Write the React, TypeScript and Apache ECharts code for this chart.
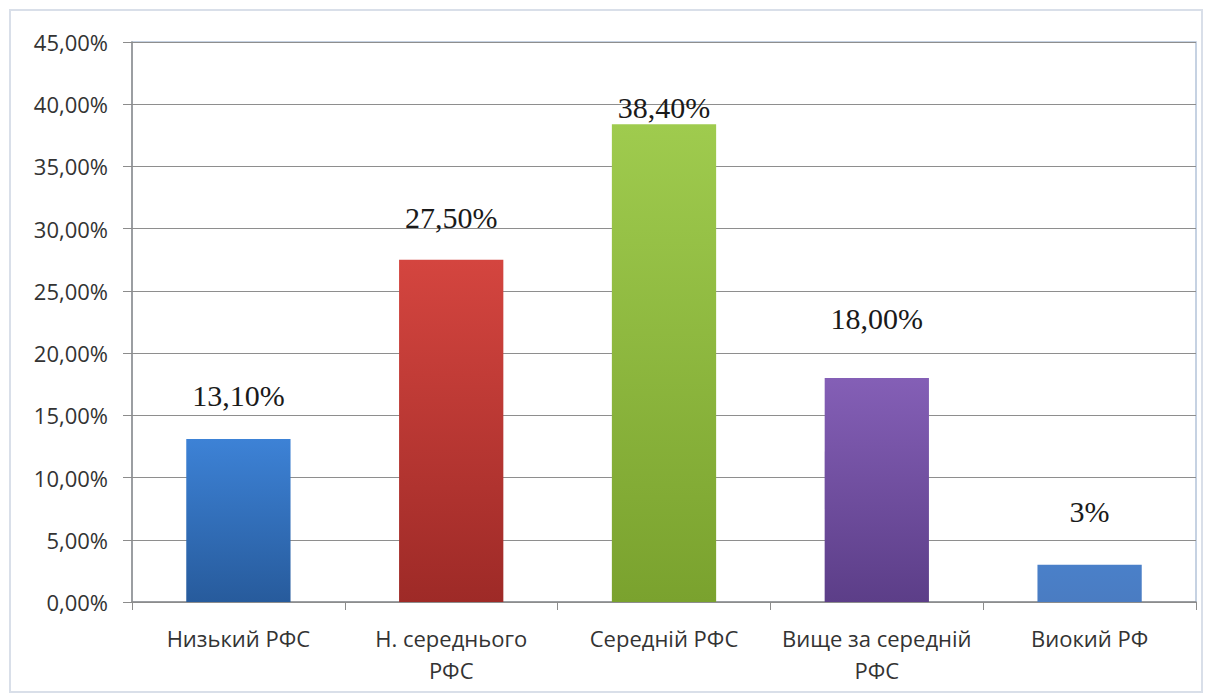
import React, { useEffect, useRef } from "react";
import * as echarts from "echarts";

const categories = ["Низький РФС", "Н. середнього\nРФС", "Середній РФС", "Вище за середній\nРФС", "Виокий РФ"];
const values = [13.1, 27.5, 38.4, 18.0, 3.0];
const valueLabels = ["13,10%", "27,50%", "38,40%", "18,00%", "3%"];
const labelDistances = [28, 27, 2, 45, 38];
const barColors = [
  ["#3d82d6", "#275b9c"],
  ["#d4453f", "#9e2a27"],
  ["#9fcb4e", "#7aa22e"],
  ["#845fb6", "#5c3e88"],
  ["#4a80c9", "#4a7cc2"],
];
const yTicks = { min: 0, max: 45, interval: 5 };

export default function App() {
  const ref = useRef<HTMLDivElement>(null);
  useEffect(() => {
    document.body.style.margin = "0";
    const chart = echarts.init(ref.current!, undefined, { renderer: "svg" });
    chart.setOption({
      animation: false,
      backgroundColor: "#ffffff",
      graphic: [
        {
          type: "rect",
          shape: { x: 10, y: 10, width: 1192, height: 682 },
          style: { fill: "none", stroke: "#d9dfe9", lineWidth: 2 },
          silent: true,
        },
      ],
      grid: {
        left: 132,
        right: 15,
        top: 42,
        bottom: 93,
        show: true,
        borderColor: "#b4c3d9",
        borderWidth: 1.5,
        backgroundColor: "transparent",
      },
      xAxis: {
        type: "category",
        data: categories,
        axisLine: { show: true, lineStyle: { color: "#8c8c8c", width: 1.5 } },
        axisTick: { show: true, interval: 0, length: 8, lineStyle: { color: "#8c8c8c" } },
        axisLabel: {
          interval: 0,
          margin: 20,
          fontSize: 22,
          lineHeight: 32,
          color: "#333333",
          fontFamily: "Open Sans",
        },
      },
      yAxis: {
        type: "value",
        min: yTicks.min,
        max: yTicks.max,
        interval: yTicks.interval,
        axisLine: { show: true, lineStyle: { color: "#8c8c8c", width: 1.5 } },
        axisTick: { show: true, length: 9, lineStyle: { color: "#8c8c8c" } },
        splitLine: { show: true, lineStyle: { color: "#8e8e8e", width: 1.2 } },
        axisLabel: {
          margin: 24,
          fontSize: 22,
          color: "#333333",
          fontFamily: "Open Sans",
          formatter: (v: number) => v.toFixed(2).replace(".", ",") + "%",
        },
      },
      series: [
        {
          type: "bar",
          barWidth: "49%",
          data: values.map((v, i) => ({
            value: v,
            itemStyle: {
              color: new echarts.graphic.LinearGradient(0, 0, 0, 1, [
                { offset: 0, color: barColors[i][0] },
                { offset: 1, color: barColors[i][1] },
              ]),
            },
            label: {
              show: true,
              position: "top",
              distance: labelDistances[i],
              formatter: valueLabels[i],
              fontSize: 30,
              fontFamily: "Liberation Serif",
              color: "#1a1a1a",
            },
          })),
        },
      ],
    });
    return () => chart.dispose();
  }, []);
  return <div ref={ref} style={{ width: 1211, height: 695 }} />;
}
